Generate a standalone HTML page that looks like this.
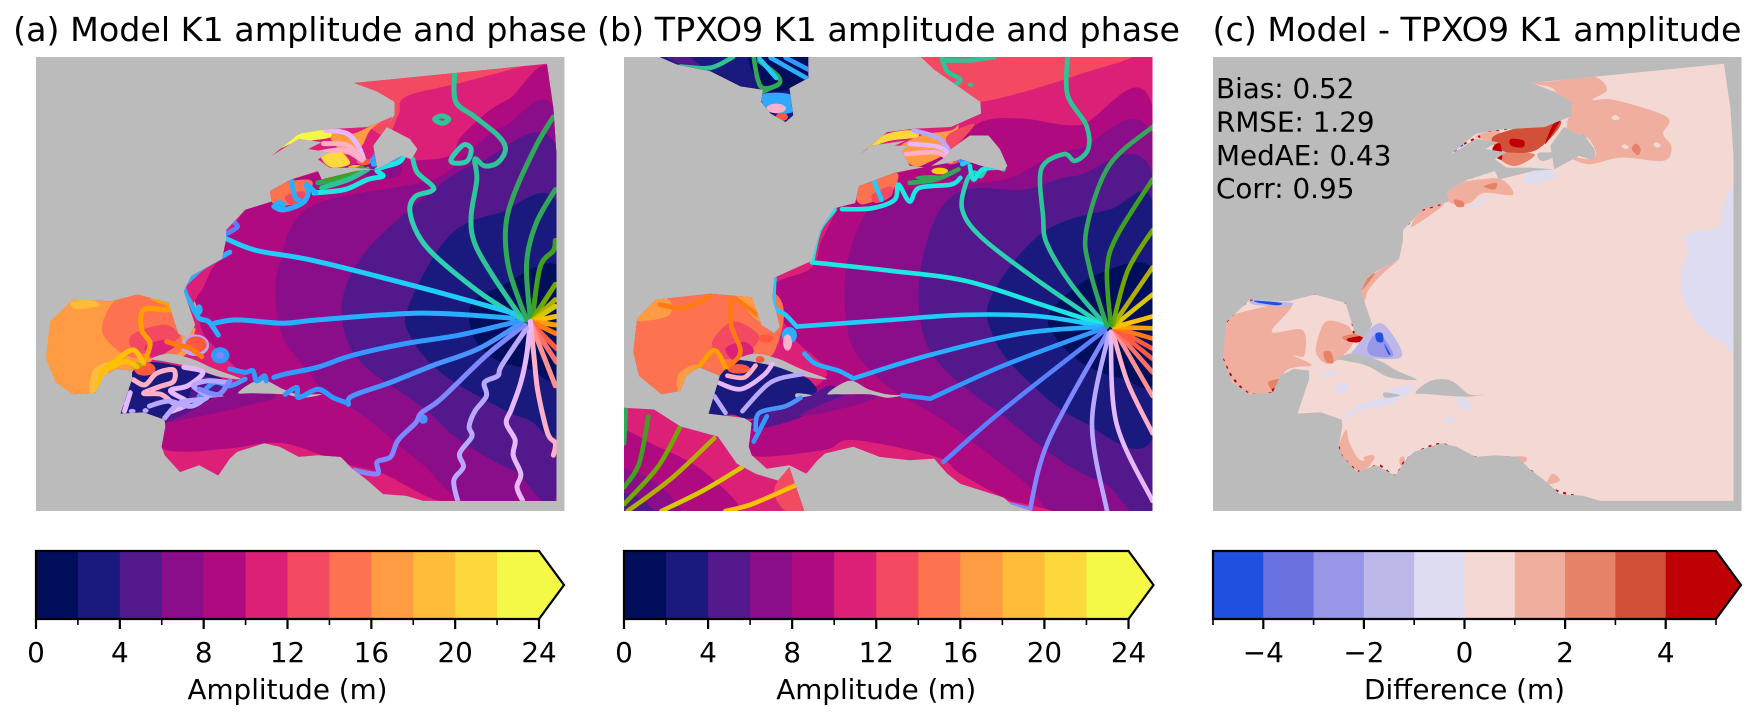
<!DOCTYPE html>
<html lang="en">
<head>
<meta charset="utf-8">
<title>K1 amplitude and phase comparison</title>
<style>
html,body{margin:0;padding:0;background:#fff;}
svg{display:block;font-family:"DejaVu Sans","Liberation Sans",sans-serif;fill:#000;}
</style>
</head>
<body>
<svg id="figure" xmlns="http://www.w3.org/2000/svg" width="1758" height="721" viewBox="0 0 1758 721">
<rect x="0" y="0" width="1758" height="721" fill="#ffffff"/>
<text x="300" y="41" font-size="33.3" text-anchor="middle">(a) Model K1 amplitude and phase</text>
<text x="888.5" y="41" font-size="33.3" text-anchor="middle">(b) TPXO9 K1 amplitude and phase</text>
<text x="1477" y="41" font-size="33.3" text-anchor="middle">(c) Model - TPXO9 K1 amplitude</text>
</svg>
<script>
/* ---------- colour scale data ---------- */
const ampLevels = [0,2,4,6,8,10,12,14,16,18,20,22,24];
const ampColors = ['#000e5c','#1a1a7e','#52188c','#8a0d8a','#b00a80','#dc2078','#f34a62','#fd7350','#ff9b42','#ffbc38','#fcd83c','#f4f948'];
const ampMajorTicks = [0,4,8,12,16,20,24];
const ampMinorTicks = [2,6,10,14,18,22];
const diffLevels = [-5,-4,-3,-2,-1,0,1,2,3,4,5];
const diffColors = ['#2050e0','#6a72e2','#9896e6','#bcb8ea','#dedcf0','#f4d8d4','#f0ae9e','#e58268','#d35038','#bf0005'];
const diffMajorTicks = [-4,-2,0,2,4];
const diffMinorTicks = [-5,-3,-1,1,3,5];
const phasePalette = ['#f4d000','#ffc000','#ffa000','#ff7a10','#ff5a40','#ff7068','#ff9090','#ffb0c8','#e6b8ff','#b8a8ff','#8088ff','#5a80ff','#4a94ff','#3399ff','#28b0ff','#22ccf8','#1ee6e0','#2dd0b0','#2ec498','#30a858','#40a020','#70a800','#b0b000','#d8c800'];

/* ---------- panel statistics ---------- */
const statLabels = ['Bias: 0.52','RMSE: 1.29','MedAE: 0.43','Corr: 0.95'];

/* ---------- model-grid geometry, in map grid units ---------- */
const modelOcean = [[1428,188],[1445,320],[1453,460],[1453,1480],[1105,1480],[1060,1465],[1000,1460],[960,1420],[920,1385],[890,1350],[830,1345],[780,1350],[730,1320],[690,1310],[620,1335],[600,1355],[570,1405],[520,1375],[470,1395],[430,1345],[422,1320],[432,1260],[430,1240],[375,1218],[315,1222],[330,1170],[345,1120],[345,1095],[305,1090],[270,1110],[250,1160],[190,1165],[145,1130],[120,1060],[130,950],[190,885],[290,890],[360,870],[440,895],[465,985],[490,1000],[510,960],[480,860],[500,815],[580,765],[590,710],[590,680],[640,620],[710,595],[705,565],[760,530],[830,505],[840,530],[930,505],[985,500],[1050,460],[1075,470],[1090,440],[1070,410],[1010,375],[1030,340],[1030,300],[985,270],[925,245]];
const modelStLawrence = [[710,460],[780,395],[850,382],[960,375],[1025,345],[1010,375],[975,430],[985,500],[920,495],[860,495],[830,470],[860,450],[805,440],[840,420],[780,410]];
const modelLand = [
 [[395,1060],[440,1045],[500,1060],[560,1090],[630,1120],[570,1112],[500,1085],[430,1068]],
 [[622,1160],[680,1122],[740,1150],[780,1165],[840,1165],[790,1175],[740,1165],[660,1162]],
 [[540,1165],[585,1170],[545,1175]]
];

/* amplitude bin index, outline — panel a */
const modelBands = [
 [5,[[300,700],[900,150],[1500,150],[1500,1500],[300,1500]]],
 [6,[[900,230],[1430,170],[1375,192],[1200,245],[1060,285],[1040,340],[1000,400],[900,300]]],
 [4,[[1460,280],[1324,295],[1211,394],[1176,458],[1090,473],[1000,470],[700,560],[560,760],[550,800],[530,850],[505,900],[520,950],[540,1000],[620,1090],[640,1110],[540,1160],[420,1250],[420,1290],[423,1325],[488,1335],[601,1325],[740,1310],[900,1370],[1000,1400],[1180,1490],[1460,1490]]],
 [3,[[1460,380],[1314,375],[1210,463],[1124,532],[810,611],[731,778],[720,887],[740,1000],[800,1090],[850,1160],[950,1230],[1100,1370],[1230,1490],[1460,1490]]],
 [2,[[1460,460],[1250,480],[1090,600],[950,750],[895,880],[905,1000],[960,1090],[1100,1200],[1200,1300],[1340,1390],[1460,1425]]],
 [1,[[1460,615],[1300,630],[1170,700],[1065,910],[1075,1000],[1150,1100],[1280,1190],[1380,1240],[1460,1250]]],
 [0,[[1460,790],[1300,850],[1230,900],[1235,990],[1290,1060],[1380,1090],[1460,1110]]],
 [3,[[430,1245],[560,1180],[640,1125],[720,1170],[640,1200],[500,1235]]],
 [8,[[100,870],[480,860],[490,1040],[400,1060],[340,1180],[100,1180]]],
 [7,[[266,975],[287,906],[331,866],[383,875],[440,895],[470,975],[470,1040],[400,1060],[340,1054],[296,1024]]],
 [6,[[340,995],[383,970],[435,960],[466,985],[462,1004],[401,1044],[348,1034]]],
 [5,[[379,1024],[427,1004],[462,1014],[444,1034],[401,1059]]],
 [9,[[187,891],[235,886],[261,901],[226,911],[192,911]]],
 [9,[[235,1160],[244,1093],[287,1073],[266,1142]]],
 [1,[[300,1230],[345,1100],[400,1070],[530,1100],[590,1130],[540,1165],[440,1245],[375,1225]]],
 [2,[[510,1115],[600,1130],[560,1175],[440,1245],[430,1225],[490,1180]]],
 [5,[[475,860],[500,815],[575,760],[550,800],[530,850],[505,900],[520,950],[505,965]]],
 [8,[[854,384],[923,394],[1010,345],[967,384],[949,424],[932,443],[897,453]]],
 [11,[[714,448],[784,394],[854,384],[862,405],[810,415],[770,420]]],
 [10,[[836,453],[880,440],[914,483],[862,493]]],
 [7,[[700,575],[720,545],[800,530],[815,550],[770,600],[720,605]]],
 [6,[[745,580],[790,565],[800,590],[760,605]]],
 [3,[[950,485],[1040,455],[1040,520],[960,520]]]
];

/* phase degrees, contour points — panel a */
const modelPhase = [
 [270,[[1187,215],[1190,300],[1240,345],[1300,400],[1320,440],[1300,480],[1265,490],[1240,470],[1245,530],[1230,640],[1240,720],[1290,820],[1365,945]]],
 [255,[[1078,470],[1090,510],[1130,550],[1125,565],[1085,580],[1070,620],[1090,690],[1140,760],[1260,870],[1365,945]]],
 [285,[[1445,345],[1400,430],[1340,580],[1320,680],[1330,800],[1375,945]]],
 [285,[[1450,560],[1400,660],[1375,780],[1385,945]]],
 [300,[[1450,710],[1445,740],[1410,790],[1390,945]]],
 [315,[[1450,840],[1390,945]]],
 [330,[[1450,885],[1390,948]]],
 [345,[[1450,905],[1390,948]]],
 [15,[[1450,935],[1390,950]]],
 [30,[[1450,960],[1390,950]]],
 [45,[[1450,985],[1390,952]]],
 [60,[[1453,1030],[1385,952]]],
 [75,[[1453,1070],[1385,952]]],
 [90,[[1450,1140],[1385,952]]],
 [105,[[1385,950],[1395,1060],[1405,1160],[1430,1280],[1450,1310],[1445,1345]]],
 [120,[[1385,950],[1375,1050],[1360,1130],[1335,1210],[1322,1250],[1345,1300],[1340,1345],[1360,1400],[1350,1440],[1365,1480]]],
 [135,[[1375,970],[1310,1080],[1300,1110],[1265,1130],[1270,1170],[1240,1215],[1225,1260],[1232,1290],[1200,1340],[1210,1380],[1185,1420],[1195,1480]]],
 [150,[[1370,960],[1270,1050],[1150,1180],[1100,1220],[1085,1250],[1040,1300],[1020,1350],[985,1365],[985,1400],[925,1390]]],
 [180,[[1360,955],[1250,1030],[1130,1080],[1020,1130],[920,1170],[910,1195]]],
 [195,[[1350,950],[1200,990],[1060,1015],[920,1050],[830,1085],[745,1105],[715,1115]]],
 [210,[[1340,940],[1100,925],[830,945],[740,955],[620,945],[560,955]]],
 [225,[[1340,925],[1100,850],[820,770],[670,740],[590,705]]],
 [210,[[500,820],[480,850],[500,900],[520,940],[545,950],[570,990]]],
 [195,[[600,1090],[640,1100],[660,1095],[670,1125],[690,1110],[695,1125]]],
 [195,[[745,1165],[775,1145],[780,1175],[830,1150],[870,1175],[905,1190]]],
 [180,[[520,1170],[560,1130],[600,1140],[640,1120]]],
 [30,[[435,916],[375,916],[370,975],[392,1014],[379,1063]]],
 [15,[[261,1152],[266,1103],[305,1063],[348,1034],[375,1073]]],
 [15,[[287,1088],[327,1068],[357,1083]]],
 [30,[[400,881],[440,900],[445,916]]],
 [45,[[435,1009],[462,1019],[496,1029],[527,1054]]],
 [105,[[348,1122],[379,1137],[409,1103],[453,1093],[453,1127],[418,1142],[375,1162],[420,1165],[450,1190]]],
 [120,[[480,1085],[530,1100],[490,1140],[445,1155],[490,1190],[450,1215]]],
 [135,[[430,1235],[470,1190],[540,1175],[505,1140],[545,1125],[590,1130]]],
 [120,[[340,1160],[325,1215]]],
 [135,[[390,1200],[440,1185],[500,1200],[550,1165]]],
 [150,[[520,1150],[570,1165],[600,1125]]],
 [120,[[849,384],[906,394],[936,433],[949,468]]],
 [105,[[845,424],[906,428],[941,463]]],
 [105,[[827,453],[897,443],[945,473]]],
 [165,[[970,475],[990,445]]],
 [180,[[970,475],[1005,450]]],
 [195,[[975,480],[1025,455]]],
 [210,[[975,485],[1040,470]]],
 [285,[[950,500],[900,525],[830,540]]],
 [270,[[960,500],[910,530],[840,555]]],
 [300,[[945,495],[900,515],[850,530]]],
 [240,[[820,570],[900,560],[960,530],[1000,520],[985,500],[1040,480],[1055,460]]],
 [210,[[715,610],[740,620],[790,600],[805,570],[800,545],[825,570]]],
 [210,[[760,530],[770,580],[780,590]]],
 [165,[[610,655],[620,670],[600,685],[590,690]]],
 [210,[[505,815],[530,790],[600,745]]]
];
/* closed phase contours: phase degrees, points */
const modelPhaseRings = [
 [270,[[1135,352],[1155,342],[1172,352],[1155,364]]],
 [255,[[1178,470],[1210,428],[1230,440],[1220,475],[1190,482]]]
];
/* filled blobs: palette bin colour index, centre, radius */
const modelBlobs = [
 [9,510,1020,36,32],[4,512,1018,28,24],[4,378,1090,28,20],[4,950,478,18,10],[0,930,497,22,10],
 [14,730,605,16,14],[13,575,1050,24,24],[10,575,1050,10,10],[14,520,915,9,16],[22,357,1081,14,10],[22,306,878,8,10],[12,1105,1238,12,14],
 [9,320,1190,8,8],[9,345,1215,9,7],[9,380,1213,8,7]
];

/* ---------- TPXO9 geometry ---------- */
const tpxoOcean = [[880,168],[1496,168],[1496,1510],[1175,1510],[1120,1490],[1100,1470],[985,1430],[950,1400],[915,1355],[850,1360],[770,1350],[700,1320],[625,1340],[605,1360],[575,1400],[530,1375],[470,1385],[430,1345],[422,1320],[430,1250],[410,1235],[315,1222],[345,1110],[290,1085],[255,1110],[240,1155],[190,1165],[130,1110],[115,1040],[125,940],[175,885],[320,868],[430,878],[455,960],[490,985],[505,965],[485,880],[490,820],[590,770],[612,680],[650,615],[705,600],[715,550],[810,510],[860,500],[960,480],[985,470],[1040,490],[1100,505],[1110,490],[1090,440],[1060,400],[1010,400],[960,440],[950,460],[900,495],[850,490],[830,445],[850,430],[810,430],[840,415],[745,430],[715,460],[790,390],[860,380],[960,375],[1040,335],[1038,300],[960,240],[915,205]];
const tpxoHudson = [[185,168],[580,168],[580,230],[530,260],[540,340],[520,360],[480,335],[455,300],[460,265],[400,255],[320,210],[230,190]];
const tpxoPacific = [[90,1205],[170,1210],[240,1260],[340,1290],[390,1370],[440,1400],[500,1420],[530,1380],[545,1430],[570,1510],[90,1510]];
const tpxoLand = [
 [[395,1060],[440,1045],[500,1060],[560,1090],[630,1120],[570,1112],[500,1085],[430,1068]],
 [[632,1162],[690,1125],[740,1150],[790,1165],[830,1168],[790,1175],[740,1165],[660,1165]],
 [[550,1162],[590,1168],[550,1175]]
];
const tpxoBands = [
 [5,[[60,150],[1520,150],[1520,1530],[60,1530]]],
 [6,[[860,150],[1430,150],[1300,220],[1040,300],[960,260]]],
 [4,[[1500,335],[1300,370],[1150,350],[1040,360],[960,440],[850,500],[700,560],[620,700],[590,790],[490,840],[500,920],[520,960],[550,1010],[630,1100],[560,1170],[430,1250],[425,1345],[620,1330],[700,1300],[920,1350],[985,1400],[1120,1480],[1250,1520],[1500,1520]]],
 [3,[[1500,430],[1300,440],[1210,470],[1100,530],[850,560],[740,620],[680,800],[690,1000],[750,1100],[830,1170],[950,1250],[1150,1420],[1250,1520],[1500,1520]]],
 [2,[[1500,530],[1290,520],[1155,560],[1000,560],[920,640],[875,830],[890,1000],[960,1110],[1100,1230],[1250,1360],[1370,1430],[1500,1480]]],
 [1,[[1500,615],[1380,620],[1200,690],[1065,880],[1075,1000],[1150,1110],[1300,1240],[1500,1285]]],
 [0,[[1500,800],[1350,810],[1225,920],[1240,1000],[1320,1080],[1420,1120],[1500,1125]]],
 [7,[[100,870],[480,860],[490,1040],[400,1060],[340,1180],[100,1180]]],
 [8,[[120,945],[175,885],[215,890],[205,935]]],
 [8,[[235,1160],[235,1105],[285,1080],[265,1160]]],
 [8,[[390,870],[435,875],[455,950],[420,920]]],
 [6,[[325,1010],[380,950],[445,985],[440,1020],[400,1050],[350,1060]]],
 [5,[[360,1030],[410,1010],[435,1040],[390,1070]]],
 [1,[[300,1230],[345,1110],[420,1060],[540,1100],[590,1130],[590,1170],[440,1235],[375,1225]]],
 [2,[[430,1265],[440,1235],[590,1165],[640,1140],[700,1160],[600,1215],[500,1255]]],
 [3,[[560,1225],[700,1160],[760,1175],[640,1215]]],
 [8,[[820,440],[880,400],[960,385],[980,370],[960,440],[900,480],[860,490]]],
 [10,[[730,440],[790,395],[860,385],[870,405],[800,415]]],
 [7,[[705,570],[720,545],[815,510],[800,570],[740,600],[715,600]]],
 [6,[[750,575],[800,550],[800,580],[760,600]]],
 [6,[[950,400],[1020,365],[1000,400],[960,440]]],
 [3,[[960,490],[1040,480],[1030,530],[960,530]]],
 [2,[[60,1510],[60,1400],[180,1430],[230,1530]]],
 [3,[[60,1340],[140,1370],[230,1430],[300,1530],[60,1530]]],
 [4,[[60,1280],[180,1320],[310,1400],[390,1530],[60,1530]]],
 [3,[[60,1390],[130,1400],[190,1440],[240,1530],[60,1530]]],
 [2,[[60,1460],[130,1470],[175,1530],[60,1530]]],
 [6,[[500,1420],[530,1380],[560,1430],[570,1510],[520,1510],[490,1460]]],
 [5,[[1110,1480],[1250,1520],[1100,1520]]]
];
const hudsonBands = [
 [1,[[150,150],[600,150],[600,370],[150,370]]],
 [2,[[180,150],[240,190],[300,205],[240,150]]],
 [0,[[430,150],[590,150],[590,240],[500,270],[450,250]]],
 [13,[[455,280],[535,280],[540,330],[480,330]]]
];
const tpxoPhase = [
 [270,[[1270,168],[1270,280],[1320,370],[1325,440],[1290,475],[1260,455],[1200,500],[1205,640],[1215,720],[1280,840],[1375,965]]],
 [270,[[935,170],[950,210],[985,235],[960,255]]],
 [270,[[945,178],[1010,178],[1075,168]]],
 [255,[[1100,500],[1060,490],[1040,520],[1020,510],[1000,540],[990,620],[1040,700],[1180,820],[1370,965]]],
 [240,[[590,775],[800,800],[1000,830],[1200,900],[1365,960]]],
 [240,[[590,775],[610,680],[650,620]]],
 [225,[[550,965],[800,945],[1000,930],[1200,935],[1365,965]]],
 [225,[[550,965],[520,930],[490,905],[490,820]]],
 [210,[[700,1118],[900,1050],[1150,985],[1365,965]]],
 [210,[[700,1118],[660,1095],[600,1075],[570,1045]]],
 [195,[[905,1178],[1100,1080],[1365,970]]],
 [195,[[905,1178],[830,1168]]],
 [165,[[940,1365],[1100,1210],[1370,975]]],
 [150,[[1170,1505],[1220,1300],[1375,985]]],
 [150,[[1115,1490],[1170,1505]]],
 [135,[[1375,1510],[1335,1250],[1380,985]]],
 [120,[[1496,1480],[1400,1250],[1385,980]]],
 [105,[[1496,1280],[1430,1130],[1390,980]]],
 [90,[[1496,1170],[1395,975]]],
 [75,[[1496,1100],[1395,972]]],
 [60,[[1496,1060],[1395,970]]],
 [60,[[1496,1030],[1395,968]]],
 [45,[[1496,1000],[1395,968]]],
 [30,[[1496,970],[1395,966]]],
 [15,[[1496,935],[1395,966]]],
 [345,[[1496,870],[1392,964]]],
 [330,[[1496,790],[1390,962]]],
 [315,[[1496,680],[1430,800],[1390,960]]],
 [300,[[1496,530],[1400,700],[1375,800],[1385,960]]],
 [285,[[1496,375],[1380,490],[1320,680],[1330,800],[1375,965]]],
 [285,[[95,1210],[90,1310]]],
 [300,[[155,1230],[130,1370],[90,1440]]],
 [315,[[240,1260],[180,1380],[90,1490]]],
 [330,[[330,1295],[220,1410],[100,1510]]],
 [345,[[405,1380],[300,1450],[190,1510]]],
 [15,[[550,1432],[430,1490],[360,1510]]],
 [45,[[375,880],[375,960],[400,1040],[365,1085]]],
 [45,[[390,885],[445,930]]],
 [30,[[285,1090],[330,1035],[360,1085]]],
 [45,[[185,900],[250,910],[320,875]]],
 [120,[[340,1130],[400,1150],[460,1110],[485,1075]]],
 [105,[[365,1110],[410,1115],[440,1080]]],
 [135,[[330,1170],[360,1220]]],
 [135,[[405,1215],[480,1130],[565,1105]]],
 [180,[[440,1270],[450,1220],[520,1200],[560,1175]]],
 [195,[[435,1305],[470,1230]]],
 [225,[[755,535],[775,590]]],
 [240,[[670,618],[750,615],[810,590],[820,545],[850,595],[875,555],[960,545],[985,525]]],
 [135,[[860,385],[930,410],[965,465]]],
 [120,[[850,425],[930,435],[965,470]]],
 [105,[[840,455],[920,450],[960,475]]],
 [195,[[985,475],[1010,450]]],
 [225,[[990,485],[1040,460]]],
 [240,[[1010,490],[1020,530],[1045,500],[1100,495]]],
 [285,[[850,540],[920,530],[980,500]]],
 [270,[[240,196],[320,200],[380,168]]],
 [285,[[435,168],[445,230],[460,260],[500,250],[500,225],[450,180]]],
 [225,[[450,172],[495,230]]],
 [210,[[480,170],[575,230]]],
 [195,[[520,170],[580,205]]],
 [285,[[460,270],[500,250]]]
];
const tpxoBlobs = [
 [4,960,475,20,10],[0,930,505,22,10],[19,905,525,40,8],
 [14,530,990,20,24],[7,525,1012,12,24],[4,468,1000,20,12],[4,510,345,16,12],[7,495,320,26,14],
 [4,395,1090,30,14],[4,452,1062,12,10],[18,1012,250,7,6]
];

/* ---------- difference panel patches, bin index in diffColors ---------- */
const diffPatches = [
 [6,[[940,245],[1000,240],[1110,225],[1150,265],[1110,295],[1170,295],[1315,345],[1305,395],[1328,435],[1305,475],[1190,465],[1100,485],[1040,460],[1100,470],[1120,450],[1090,400],[1040,390],[1050,310],[1020,295],[1000,260]]],
 [5,[[1162,347],[1175,340],[1185,350],[1172,355]]],
 [5,[[1190,432],[1200,426],[1210,435],[1200,440]]],
 [5,[[1278,427],[1288,420],[1298,430],[1288,436]]],
 [7,[[1218,440],[1230,424],[1243,440],[1235,458]]],
 [6,[[790,400],[850,385],[850,420],[800,410]]],
 [7,[[850,450],[950,455],[900,490],[860,475]]],
 [8,[[850,395],[1020,355],[960,440],[880,450],[840,430]]],
 [9,[[980,425],[1020,358],[1000,370]]],
 [9,[[835,435],[855,425],[860,470],[840,460]]],
 [9,[[885,410],[920,415],[918,435],[885,430]]],
 [6,[[705,570],[720,545],[800,530],[860,530],[890,575],[810,570],[770,600],[720,600]]],
 [7,[[728,590],[752,595],[755,610],[735,610]]],
 [7,[[810,550],[845,540],[840,560]]],
 [4,[[920,530],[960,490],[1010,520],[950,540]]],
 [4,[[770,608],[825,580],[800,605]]],
 [6,[[465,860],[500,815],[575,765],[520,820],[490,860],[480,890]]],
 [7,[[465,860],[490,820],[510,808],[480,850]]],
 [6,[[640,620],[700,600],[670,630],[610,670]]],
 [6,[[100,950],[170,915],[280,900],[225,980],[310,975],[315,1050],[285,1050],[335,1078],[290,1085],[260,1100],[240,1160],[170,1165],[120,1130],[90,1060]]],
 [6,[[350,1010],[375,950],[430,960],[450,990],[440,1030],[385,1075],[350,1050]]],
 [7,[[215,1130],[250,1122],[235,1160]]],
 [9,[[225,1150],[245,1145],[235,1162]]],
 [7,[[368,1040],[388,1040],[395,1072],[375,1068]]],
 [7,[[420,995],[470,985],[470,1005],[440,1010]]],
 [9,[[435,1000],[480,992],[470,1010],[440,1010]]],
 [3,[[175,885],[280,895],[260,905],[175,900]]],
 [0,[[180,888],[250,895],[240,902],[190,895]]],
 [3,[[455,1030],[510,960],[545,970],[585,1050],[520,1060],[450,1045]]],
 [2,[[490,1020],[520,985],[560,1050],[500,1050]]],
 [0,[[512,985],[530,985],[532,1010],[515,1008]]],
 [0,[[535,1015],[552,1045],[546,1045]]],
 [4,[[420,1235],[470,1195],[540,1175],[550,1150],[620,1140],[560,1190],[480,1210],[440,1230]]],
 [4,[[1497,580],[1470,610],[1455,670],[1365,695],[1375,740],[1355,800],[1360,880],[1410,970],[1470,1010],[1497,1010]]],
 [6,[[410,1320],[430,1270],[440,1310],[470,1360],[510,1350],[470,1395],[420,1350]]],
 [6,[[480,1350],[505,1345],[505,1360],[485,1362]]],
 [6,[[578,1355],[590,1350],[592,1375],[580,1375]]],
 [9,[[680,1325],[705,1320],[700,1345],[685,1340]]],
 [7,[[700,1312],[730,1330],[705,1332]]],
 [4,[[740,1170],[770,1190],[775,1210],[745,1205]]],
 [4,[[705,1235],[725,1235],[725,1250],[705,1250]]],
 [4,[[405,1140],[435,1135],[425,1160],[408,1160]]],
 [4,[[365,1100],[395,1095],[395,1110],[370,1112]]],
 [6,[[1000,1400],[1020,1420],[985,1430]]],
 [6,[[890,1350],[925,1350],[925,1365],[900,1365]]]
];
const diffLand = [
 [[400,1060],[450,1045],[520,1065],[570,1095],[625,1122],[550,1115],[490,1082],[430,1066]],
 [[622,1160],[665,1125],[720,1125],[770,1165],[815,1165],[760,1172],[660,1165]],
 [[535,1160],[580,1168],[540,1175]],
 [[960,452],[1010,445],[1080,395],[1100,425],[1118,450],[1105,470],[1050,445],[975,475]]
];
/* coastal fringe of the large positive differences, diffColors bin, points */
const diffFringes = [
 [9,[[100,950],[170,885],[280,880],[345,868],[430,895],[452,985]]],
 [9,[[90,1060],[120,1120],[170,1165],[240,1158]]],
 [9,[[705,570],[715,548],[830,505]]],
 [9,[[800,388],[860,382],[1020,355]]],
 [0,[[710,460],[755,425]]],
 [9,[[755,425],[800,402]]],
 [9,[[410,1320],[420,1350],[470,1395],[520,1375],[565,1405],[600,1355],[690,1312],[780,1350],[890,1350]]],
 [9,[[940,1390],[990,1440],[1060,1465],[1115,1480]]],
 [9,[[640,620],[700,600]]],
 [0,[[600,655],[607,668]]],
 [2,[[580,680],[590,700]]]
];

/* ---------- panel frames ---------- */
const PANEL_TOP = 57, PANEL_BOTTOM = 511;
const panelLeftEdges = [36, 624, 1213];
const PANEL_WIDTH = 528.5;
const CBAR_TOP = 551, CBAR_BOTTOM = 619, CBAR_TIP = 25;

const SVGNS = 'http://www.w3.org/2000/svg';
const fig = document.getElementById('figure');

function linear(d0, d1, r0, r1) {
  return v => r0 + (v - d0) * (r1 - r0) / (d1 - d0);
}
function polyPath(pts, sx, sy) {
  return pts.map((p, i) => (i ? 'L' : 'M') + sx(p[0]).toFixed(1) + ' ' + sy(p[1]).toFixed(1)).join('') + 'Z';
}
function smoothPath(pts, sx, sy, closed) {
  const q = pts.map(p => [sx(p[0]), sy(p[1])]);
  const n = q.length;
  const at = i => closed ? q[(i + n) % n] : q[Math.max(0, Math.min(n - 1, i))];
  let d = 'M' + q[0][0].toFixed(1) + ' ' + q[0][1].toFixed(1);
  const last = closed ? n : n - 1;
  for (let i = 0; i < last; i++) {
    const p0 = at(i - 1), p1 = at(i), p2 = at(i + 1), p3 = at(i + 2);
    const c1x = p1[0] + (p2[0] - p0[0]) / 6, c1y = p1[1] + (p2[1] - p0[1]) / 6;
    const c2x = p2[0] - (p3[0] - p1[0]) / 6, c2y = p2[1] - (p3[1] - p1[1]) / 6;
    d += 'C' + c1x.toFixed(1) + ' ' + c1y.toFixed(1) + ' ' + c2x.toFixed(1) + ' ' + c2y.toFixed(1) + ' ' + p2[0].toFixed(1) + ' ' + p2[1].toFixed(1);
  }
  return d + (closed ? 'Z' : '');
}
function node(parent, tag, name, attrs) {
  const el = document.createElementNS(SVGNS, tag);
  
  
  for (const k in attrs) el.setAttribute(k, attrs[k]);
  parent.appendChild(el);
  return el;
}
function phaseColor(deg) {
  return phasePalette[Math.round(((deg % 360) + 360) % 360 / 15) % phasePalette.length];
}
function panelFrame(index, label) {
  const left = panelLeftEdges[index];
  const g = node(fig, 'g', label + '-map', {});
  node(g, 'rect', label + '-land-background', {x: left, y: PANEL_TOP, width: PANEL_WIDTH, height: PANEL_BOTTOM - PANEL_TOP, fill: '#bbbbbb'});
  return g;
}
function oceanLayer(g, label, outlines) {
  const id = label + '-ocean-clip';
  const defs = node(g, 'clipPath', label + '-ocean-mask', {id: id});
  outlines.forEach(o => {
    node(defs, 'path', label + '-ocean-outline', {d: polyPath(o.pts, o.sx, o.sy)});
  });
  return node(g, 'g', label + '-ocean', {'clip-path': 'url(#' + id + ')'});
}
function drawBands(layer, label, bands, sx, sy, palette) {
  bands.forEach(b => {
    node(layer, 'path', label + '-band', {d: smoothPath(b[1], sx, sy, true), fill: palette[b[0]]});
  });
}
function drawLines(layer, label, lines, sx, sy, closed, width) {
  lines.forEach(l => {
    node(layer, 'path', label + '-phase-contour', {d: smoothPath(l[1], sx, sy, closed), fill: 'none', stroke: phaseColor(l[0]), 'stroke-width': width, 'stroke-linecap': 'round', 'stroke-linejoin': 'round'});
  });
}
function drawBlobs(layer, label, blobs, sx, sy) {
  const ux = sx(1) - sx(0), uy = sy(1) - sy(0);
  blobs.forEach(b => {
    node(layer, 'ellipse', label + '-phase-blob', {cx: sx(b[1]), cy: sy(b[2]), rx: b[3] * ux, ry: b[4] * uy, fill: phasePalette[b[0]]});
  });
}
function drawLand(g, label, polys, sx, sy) {
  polys.forEach(p => {
    node(g, 'path', label + '-island', {d: smoothPath(p, sx, sy, true), fill: '#bbbbbb'});
  });
}
function drawColorbar(label, left, right, levels, colors, majors, minors, title) {
  const g = node(fig, 'g', label + '-colorbar', {});
  const sx = linear(levels[0], levels[levels.length - 1], left, right);
  colors.forEach((c, i) => {
    node(g, 'rect', label + '-colorbar-segment', {x: sx(levels[i]), y: CBAR_TOP, width: sx(levels[i + 1]) - sx(levels[i]) + 0.5, height: CBAR_BOTTOM - CBAR_TOP, fill: c});
  });
  const mid = (CBAR_TOP + CBAR_BOTTOM) / 2;
  const arrowPts = right + ',' + CBAR_TOP + ' ' + (right + CBAR_TIP) + ',' + mid + ' ' + right + ',' + CBAR_BOTTOM;
  node(g, 'polygon', label + '-colorbar-extend-arrow', {points: arrowPts, fill: colors[colors.length - 1]});
  node(g, 'polygon', label + '-colorbar-outline', {points: left + ',' + CBAR_TOP + ' ' + arrowPts + ' ' + left + ',' + CBAR_BOTTOM, fill: 'none', stroke: '#000', 'stroke-width': 2.2, 'stroke-linejoin': 'miter'});
  minors.forEach(v => {
    node(g, 'line', label + '-colorbar-minor-tick', {x1: sx(v), x2: sx(v), y1: CBAR_BOTTOM, y2: CBAR_BOTTOM + 6, stroke: '#000', 'stroke-width': 1.6});
  });
  majors.forEach(v => {
    node(g, 'line', label + '-colorbar-major-tick', {x1: sx(v), x2: sx(v), y1: CBAR_BOTTOM, y2: CBAR_BOTTOM + 10, stroke: '#000', 'stroke-width': 2.2});
    const t = node(g, 'text', label + '-colorbar-tick-label', {x: sx(v), y: 662, 'font-size': 27.8, 'text-anchor': 'middle'});
    t.textContent = String(v).replace('-', '\u2212');
  });
  const xl = node(g, 'text', label + '-colorbar-title', {x: (left + right + CBAR_TIP) / 2 - 12.5, y: 699, 'font-size': 27.8, 'text-anchor': 'middle'});
  xl.textContent = title;
}

/* ---------- panel a ---------- */
(function () {
  const sx = linear(94, 1474, panelLeftEdges[0], panelLeftEdges[0] + PANEL_WIDTH);
  const sy = linear(168, 1510, PANEL_TOP, PANEL_BOTTOM);
  const g = panelFrame(0, 'panel-a');
  const layer = oceanLayer(g, 'panel-a', [{pts: modelOcean, sx, sy}, {pts: modelStLawrence, sx, sy}]);
  drawBands(layer, 'panel-a-amplitude', modelBands, sx, sy, ampColors);
  drawLand(layer, 'panel-a', modelLand, sx, sy);
  drawBlobs(layer, 'panel-a', modelBlobs, sx, sy);
  drawLines(layer, 'panel-a', modelPhase, sx, sy, false, 5);
  drawLines(layer, 'panel-a-ring', modelPhaseRings, sx, sy, true, 5);
})();

/* ---------- panel b ---------- */
(function () {
  const sx = linear(90, 1496, panelLeftEdges[1], panelLeftEdges[1] + PANEL_WIDTH);
  const sy = linear(168, 1510, PANEL_TOP, PANEL_BOTTOM);
  const g = panelFrame(1, 'panel-b');
  const layer = oceanLayer(g, 'panel-b', [{pts: tpxoOcean, sx, sy}, {pts: tpxoPacific, sx, sy}, {pts: tpxoHudson, sx, sy}]);
  drawBands(layer, 'panel-b-amplitude', tpxoBands, sx, sy, ampColors);
  drawBands(layer, 'panel-b-hudson-amplitude', hudsonBands, sx, sy, ampColors.slice(0, 3).concat(new Array(10).fill('#000'), ['#30a8ff']));
  drawLand(layer, 'panel-b', tpxoLand, sx, sy);
  drawBlobs(layer, 'panel-b', tpxoBlobs, sx, sy);
  drawLines(layer, 'panel-b', tpxoPhase, sx, sy, false, 4.6);
})();

/* ---------- panel c ---------- */
(function () {
  const left = panelLeftEdges[2];
  const sx = linear(94, 1474, left, left + PANEL_WIDTH);
  const sy = linear(168, 1510, PANEL_TOP, PANEL_BOTTOM);
  const cx = linear(63, 1521, left, left + PANEL_WIDTH);
  const g = panelFrame(2, 'panel-c');
  const layer = oceanLayer(g, 'panel-c', [{pts: modelOcean, sx, sy}, {pts: modelStLawrence, sx, sy}]);
  node(layer, 'rect', 'panel-c-base-difference', {x: left, y: PANEL_TOP, width: PANEL_WIDTH, height: PANEL_BOTTOM - PANEL_TOP, fill: diffColors[5]});
  drawBands(layer, 'panel-c-difference', diffPatches, cx, sy, diffColors);
  diffFringes.forEach(f => {
    node(layer, 'path', 'panel-c-coastal-fringe', {d: smoothPath(f[1], cx, sy, false), fill: 'none', stroke: diffColors[f[0]], 'stroke-width': 2, 'stroke-dasharray': '3 5'});
  });
  drawLand(layer, 'panel-c', diffLand, cx, sy);
  statLabels.forEach((s, i) => {
    const t = node(g, 'text', 'panel-c-statistic', {x: left + 3, y: 98 + i * 33.4, 'font-size': 27.8});
    t.textContent = s;
  });
})();

drawColorbar('panel-a', 36, 539, ampLevels, ampColors, ampMajorTicks, ampMinorTicks, 'Amplitude (m)');
drawColorbar('panel-b', 624, 1128.5, ampLevels, ampColors, ampMajorTicks, ampMinorTicks, 'Amplitude (m)');
drawColorbar('panel-c', 1213, 1716, diffLevels, diffColors, diffMajorTicks, diffMinorTicks, 'Difference (m)');
</script>
</body>
</html>
